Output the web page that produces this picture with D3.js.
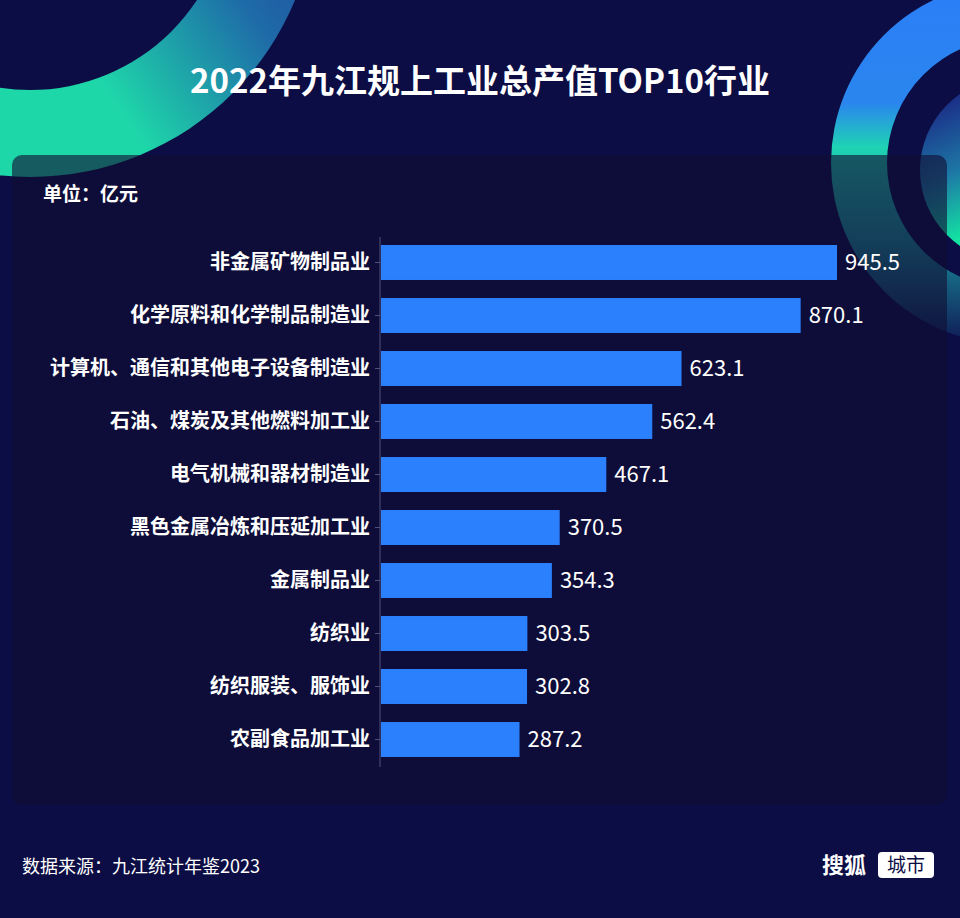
<!DOCTYPE html>
<meta charset="utf-8">
<style>
body { margin: 0; background: #0c0d44; }
svg { display: block; }
text { font-family: "Noto Sans CJK SC", "Noto Sans", sans-serif; fill: #fff; }
.title { font-size: 33px; font-weight: bold; text-anchor: middle; }
.unit { font-size: 19px; font-weight: bold; }
.axis .tick text { font-size: 20px; font-weight: bold; fill: #fff; }
.axis path, .axis line { stroke: #4d5279; }
.value { font-size: 22px; }
.source { font-size: 18px; }
</style>
<svg width="960" height="918"></svg>
<script src="https://d3js.org/d3.v7.min.js"></script>
<script>

var categories = ["非金属矿物制品业", "化学原料和化学制品制造业", "计算机、通信和其他电子设备制造业",
    "石油、煤炭及其他燃料加工业", "电气机械和器材制造业", "黑色金属冶炼和压延加工业",
    "金属制品业", "纺织业", "纺织服装、服饰业", "农副食品加工业"];
var values = [945.5, 870.1, 623.1, 562.4, 467.1, 370.5, 354.3, 303.5, 302.8, 287.2];

var svg = d3.select("svg"),
    width = +svg.attr("width"),
    height = +svg.attr("height");

var defs = svg.append("defs");

var g1 = defs.append("linearGradient").attr("id", "ringLeft")
    .attr("gradientUnits", "userSpaceOnUse")
    .attr("x1", 260).attr("y1", -110).attr("x2", -10).attr("y2", 80);
g1.append("stop").attr("offset", 0).attr("stop-color", "#233c93");
g1.append("stop").attr("offset", 0.5).attr("stop-color", "#1e6aa8");
g1.append("stop").attr("offset", 1).attr("stop-color", "#1ed7a9");

var g2 = defs.append("linearGradient").attr("id", "ringRight")
    .attr("gradientUnits", "userSpaceOnUse")
    .attr("x1", 0).attr("y1", -163).attr("x2", 0).attr("y2", 180);
g2.append("stop").attr("offset", 0).attr("stop-color", "#2b7ff6");
g2.append("stop").attr("offset", 0.3).attr("stop-color", "#2a86ee");
g2.append("stop").attr("offset", 0.43).attr("stop-color", "#1fd3b4");
g2.append("stop").attr("offset", 0.7).attr("stop-color", "#1a8f9c");
g2.append("stop").attr("offset", 1).attr("stop-color", "#0f1a55");

var g3 = defs.append("linearGradient").attr("id", "discRight")
    .attr("gradientUnits", "userSpaceOnUse")
    .attr("x1", 960).attr("y1", 90).attr("x2", 1020).attr("y2", 220);
g3.append("stop").attr("offset", 0).attr("stop-color", "#1b2a85");
g3.append("stop").attr("offset", 0.5).attr("stop-color", "#1d77a6");
g3.append("stop").attr("offset", 1).attr("stop-color", "#12f0a2");

// background rings
var arc = d3.arc();
svg.append("path")
    .attr("d", arc({innerRadius: 200, outerRadius: 287, startAngle: 0, endAngle: 2 * Math.PI}))
    .attr("fill", "url(#ringLeft)")
    .attr("transform", "translate(30,-110)");

svg.append("path")
    .attr("d", arc({innerRadius: 125, outerRadius: 181, startAngle: 0, endAngle: 2 * Math.PI}))
    .attr("transform", "translate(1012,163)")
    .attr("fill", "url(#ringRight)");

svg.append("circle")
    .attr("cx", 1012).attr("cy", 170).attr("r", 92)
    .attr("fill", "url(#discRight)");

// panel
svg.append("rect")
    .attr("x", 12).attr("y", 155).attr("width", 935).attr("height", 650).attr("rx", 10)
    .attr("fill", "rgba(16,15,50,0.62)");

svg.append("text").attr("class", "title")
    .attr("x", width / 2).attr("y", 93)
    .text("2022年九江规上工业总产值TOP10行业");

svg.append("text").attr("class", "unit")
    .attr("x", 43).attr("y", 201)
    .text("单位：亿元");

var x = d3.scaleLinear().domain([0, 1000]).range([381, 863.3]);
var y = d3.scaleBand().domain(categories).range([236, 766]).paddingInner(0.34).paddingOuter(0.17);

svg.append("g").attr("class", "axis")
    .attr("transform", "translate(380,0)")
    .call(d3.axisLeft(y).tickSize(5).tickSizeOuter(0).tickPadding(5))
    .call(function(g) { g.select(".domain").attr("d", "M0,237V767"); });

svg.selectAll(".bar")
    .data(values)
  .enter().append("rect")
    .attr("class", "bar")
    .attr("x", x(0))
    .attr("y", function(d, i) { return y(categories[i]); })
    .attr("width", function(d) { return x(d) - x(0); })
    .attr("height", y.bandwidth())
    .attr("fill", "#2a80fd");

svg.selectAll(".value")
    .data(values)
  .enter().append("text")
    .attr("class", "value")
    .attr("x", function(d) { return x(d) + 8; })
    .attr("y", function(d, i) { return y(categories[i]) + y.bandwidth() / 2; })
    .attr("dy", "0.36em")
    .text(function(d) { return d.toFixed(1); });

svg.append("text").attr("class", "source")
    .attr("x", 22).attr("y", 873)
    .text("数据来源：九江统计年鉴2023");

svg.append("text")
    .attr("x", 822).attr("y", 873)
    .style("font-size", "22px").style("font-weight", "bold")
    .text("搜狐");
svg.append("rect")
    .attr("x", 878).attr("y", 852).attr("width", 56).attr("height", 26).attr("rx", 4)
    .attr("fill", "#fff");
svg.append("text")
    .attr("x", 906).attr("y", 872)
    .attr("text-anchor", "middle")
    .style("font-size", "19px").style("fill", "#0c0d44")
    .text("城市");

</script>
